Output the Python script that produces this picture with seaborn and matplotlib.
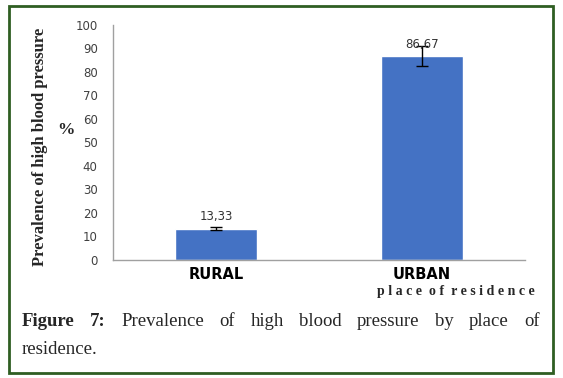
import matplotlib
matplotlib.use("Agg")
import matplotlib.pyplot as plt
import seaborn as sns
import pandas as pd
from matplotlib.patches import Rectangle

###
### DATA
###

places = ["RURAL", "URBAN"]
prevalence = [13.33, 86.67]
errors = [0.5, 4.3]
value_labels = ["13,33", "86,67"]
y_ticks = [0, 10, 20, 30, 40, 50, 60, 70, 80, 90, 100]

df = pd.DataFrame({"place": places, "prevalence": prevalence})

###
### PLOT
###

sns.set_theme(style="white")
plt.rcParams["font.family"] = ["DejaVu Sans"]

fig = plt.figure(figsize=(5.63, 3.78), dpi=100)
ax = fig.add_axes([113 / 563, 1 - 260 / 378, 412 / 563, 235 / 378])

sns.barplot(data=df, x="place", y="prevalence", color="#4472C4", width=0.4,
            saturation=1, errorbar=None, ax=ax)
ax.errorbar(range(len(places)), prevalence, yerr=errors, fmt="none",
            ecolor="black", elinewidth=1, capsize=4, capthick=1)

# value labels just above the bars
for i, (v, lab) in enumerate(zip(prevalence, value_labels)):
    ax.annotate(lab, (i, v), xytext=(0, 4), textcoords="offset points",
                ha="center", va="bottom", fontsize=8.5, color="#333333")

ax.set_xlim(-0.5, 1.5)
ax.set_ylim(0, 100)
ax.set_yticks(y_ticks)
ax.set_xticks([-0.5, 0.5, 1.5], minor=True)
ax.tick_params(axis="x", which="major", length=0, pad=5)
ax.tick_params(axis="x", which="minor", length=4, color="#a0a0a0", direction="out")
ax.tick_params(axis="y", length=4, color="#a0a0a0", direction="out", pad=7,
               labelsize=8.5, labelcolor="#404040")
ax.set_xticklabels(places, fontsize=10.5, fontweight="bold", color="black",
                   family="DejaVu Sans")
ax.set_xlabel("")
ax.set_ylabel("")
for s in ["top", "right"]:
    ax.spines[s].set_visible(False)
for s in ["left", "bottom"]:
    ax.spines[s].set_color("#a0a0a0")
    ax.spines[s].set_linewidth(1)

# axis titles
fig.text(40 / 563, 1 - 147 / 378, "Prevalence of high blood pressure", rotation=90,
         ha="center", va="center", fontsize=12, fontweight="bold",
         family="Liberation Serif")
fig.text(66 / 563, 1 - 130 / 378, "%", ha="center", va="center", fontsize=12.5,
         fontweight="bold", family="Liberation Serif")
fig.text(456 / 563, 1 - 292 / 378, "p l a c e  o f  r e s i d e n c e", ha="center",
         va="center", fontsize=10, fontweight="bold", family="Liberation Serif")

# caption, justified first line
fig.canvas.draw()
renderer = fig.canvas.get_renderer()
words = [("Figure", "bold"), ("7:", "bold"), ("Prevalence", "normal"), ("of", "normal"),
         ("high", "normal"), ("blood", "normal"), ("pressure", "normal"), ("by", "normal"),
         ("place", "normal"), ("of", "normal")]
x_left, x_right, y_line = 22, 540, 1 - 322 / 378
texts = []
widths = []
for w, weight in words:
    t = fig.text(0, y_line, w, fontsize=13.5, fontweight=weight, family="Liberation Serif",
                 va="center", ha="left")
    widths.append(t.get_window_extent(renderer).width)
    texts.append(t)
gap = (x_right - x_left - sum(widths)) / (len(words) - 1)
x = x_left
for t, wd in zip(texts, widths):
    t.set_x(x / 563)
    x += wd + gap
fig.text(x_left / 563, 1 - 350 / 378, "residence.", fontsize=13.5, family="Liberation Serif",
         va="center", ha="left")

# green frame
fig.patches.append(Rectangle((9 / 563, 5 / 378), 544 / 563, 367 / 378,
                             transform=fig.transFigure, fill=False,
                             edgecolor="#2f5e22", linewidth=2))

fig.savefig("out.png", dpi=100)
